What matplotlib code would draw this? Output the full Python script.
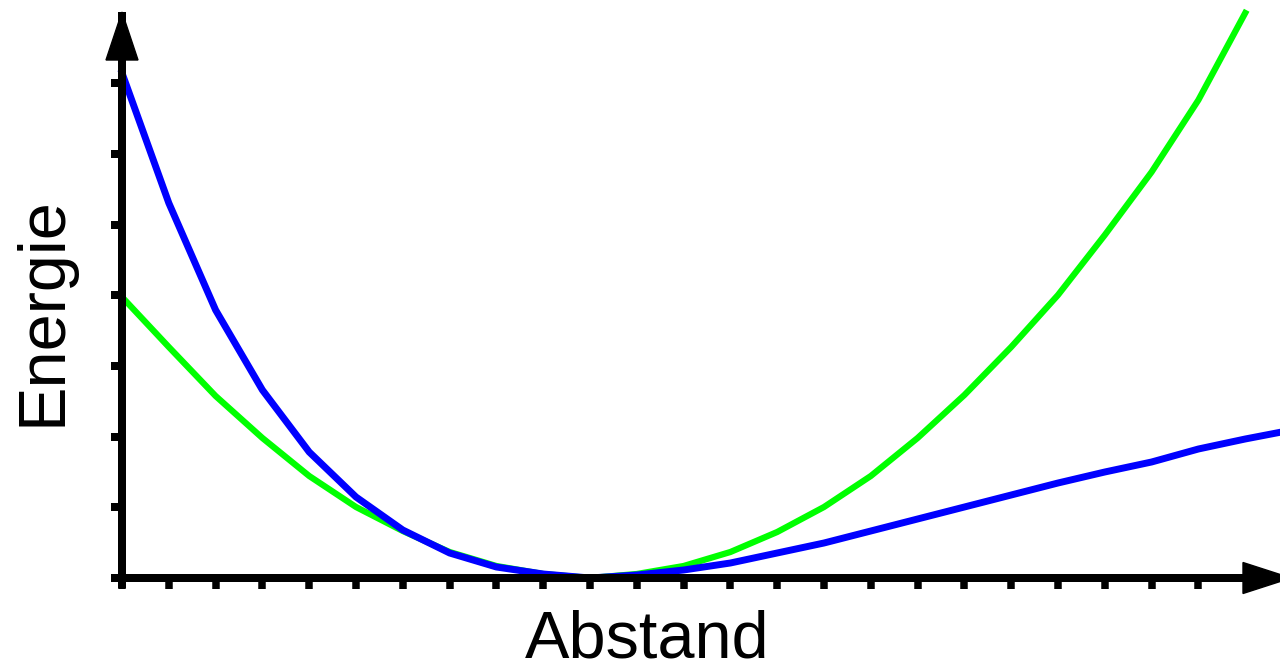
import numpy as np
import matplotlib.pyplot as plt
from matplotlib.patches import Polygon

# Sample index along the distance axis (one sample per tick)
abstand = np.arange(25)
abstand_blau = np.arange(26)

# Harmonic approximation (green), energy in arbitrary units
energie_harmonisch = [281, 231, 182, 140, 102, 71, 47, 26, 12, 4, 0,
                      4, 12, 26, 46, 71, 102, 140, 183, 231, 283, 343, 406, 478, 565]

# Morse-like potential (blue)
energie_morse = [505, 375, 268, 188, 126, 81, 48, 25, 11, 4, 0,
                 3, 8, 15, 25, 35, 47, 59, 71, 83, 95, 106, 116, 129, 139, 148]

x_ticks = np.arange(24)
y_ticks = np.arange(8) * 70.7

# pixel geometry helpers
px = 46.8           # pixels per distance step
x0 = 122            # pixel position of the y axis
y0 = 578            # pixel position of the x axis
W, H = 1280, 671

fig = plt.figure(figsize=(12.8, 6.71), dpi=100)
ax = fig.add_axes([0, 0, 1, 1])
ax.set_xlim(-x0 / px, (W - x0) / px)
ax.set_ylim(y0 - H, y0)
ax.axis("off")

lw_axis = 8 * 72 / 100

# axes lines
ax.plot([-11 / px, (W + 20 - x0) / px], [0, 0], color="black", lw=lw_axis,
        solid_capstyle="butt", zorder=4)
ax.plot([0, 0], [-10, y0 - 12], color="black", lw=lw_axis,
        solid_capstyle="butt", zorder=4)

# tick marks
for k in x_ticks:
    ax.plot([k, k], [0, -11], color="black", lw=7.5 * 72 / 100,
            solid_capstyle="butt", zorder=4)
for e in y_ticks:
    ax.plot([-11 / px, 0], [e, e], color="black", lw=lw_axis,
            solid_capstyle="butt", zorder=4)

# arrow heads
ax.add_patch(Polygon([[-16 / px, y0 - 60], [16 / px, y0 - 60], [0, y0 - 12]],
                     closed=True, color="black", zorder=4))
ax.add_patch(Polygon([[(1243 - x0) / px, 15.5], [(1243 - x0) / px, -15.5],
                      [(1291 - x0) / px, 0]],
                     closed=True, color="black", zorder=4))

# curves
ax.plot(abstand, energie_harmonisch, color="#00ff00", lw=4.5, zorder=2,
        solid_joinstyle="miter")
ax.plot(abstand_blau, energie_morse, color="#0000ff", lw=5.0, zorder=3,
        solid_joinstyle="miter")

# labels
ax.text((647 - x0) / px, y0 - 658, "Abstand", fontsize=48,
        family="Liberation Sans", ha="center", va="baseline")
ax.text((43 - x0) / px, y0 - 311, "Energie", fontsize=48,
        family="Liberation Sans", ha="center", va="center", rotation=90)

fig.savefig("out.png", dpi=100)
